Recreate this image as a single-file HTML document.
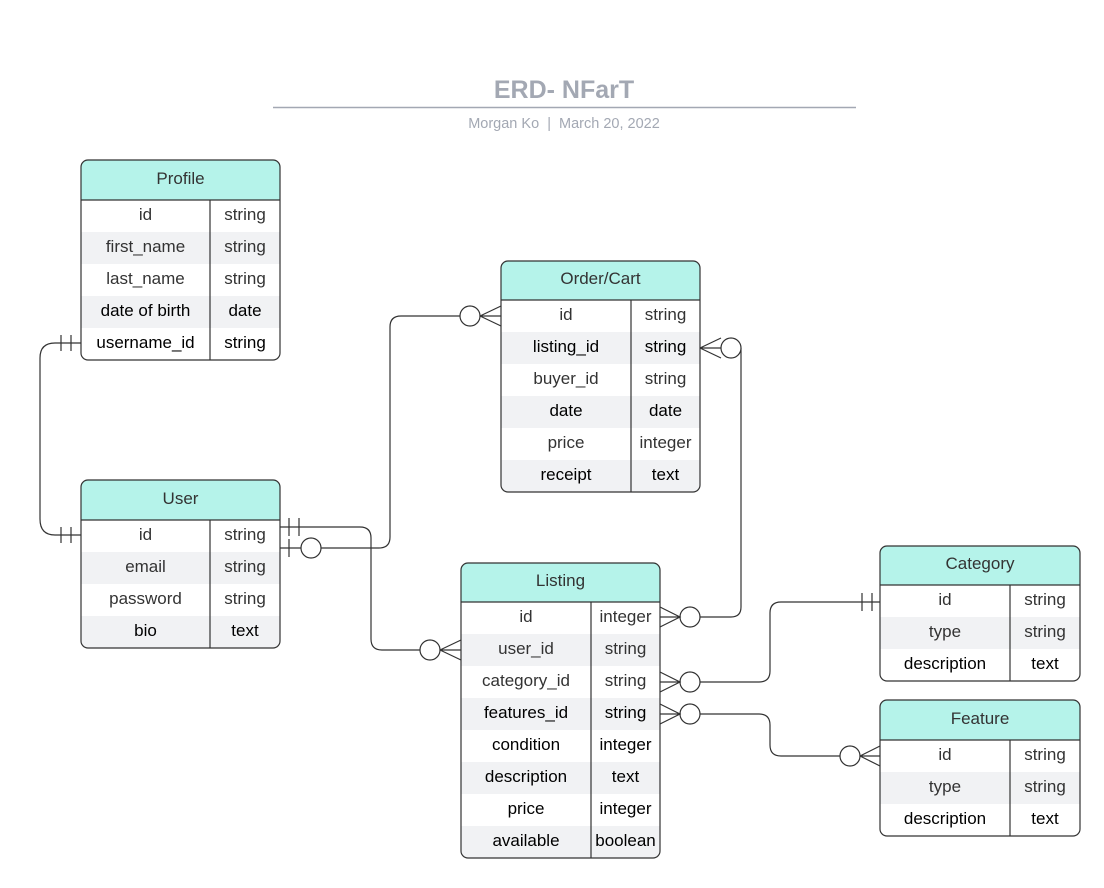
<!DOCTYPE html>
<html><head><meta charset="utf-8"><style>
html,body{margin:0;padding:0;background:#fff}
svg{display:block}
text{font-family:"Liberation Sans",sans-serif}
</style></head><body>
<svg width="1104" height="888" viewBox="0 0 1104 888" xmlns="http://www.w3.org/2000/svg">
<defs>
<clipPath id="cP"><rect x="81" y="160" width="199" height="200" rx="7"/></clipPath>
<clipPath id="cO"><rect x="501" y="261" width="199" height="231" rx="7"/></clipPath>
<clipPath id="cU"><rect x="81" y="480" width="199" height="168" rx="7"/></clipPath>
<clipPath id="cL"><rect x="461" y="563" width="199" height="295" rx="7"/></clipPath>
<clipPath id="cC"><rect x="880" y="546" width="200" height="135" rx="7"/></clipPath>
<clipPath id="cF"><rect x="880" y="700" width="200" height="136" rx="7"/></clipPath>
</defs>
<text x="564" y="98" text-anchor="middle" font-size="25" font-weight="bold" fill="#a3a8b3">ERD- NFarT</text>
<line x1="273" y1="107.5" x2="856" y2="107.5" stroke="#a3a8b3" stroke-width="1.5"/>
<text x="564" y="128" text-anchor="middle" font-size="14.5" fill="#a3a8b3">Morgan Ko&#160;&#160;|&#160;&#160;March 20, 2022</text>

<g clip-path="url(#cP)">
<rect x="81" y="160" width="199" height="40" fill="#b5f3ea"/>
<rect x="81" y="232" width="199" height="32" fill="#f1f2f4"/>
<rect x="81" y="296" width="199" height="32" fill="#f1f2f4"/>
</g>
<g clip-path="url(#cO)">
<rect x="501" y="261" width="199" height="39" fill="#b5f3ea"/>
<rect x="501" y="332" width="199" height="32" fill="#f1f2f4"/>
<rect x="501" y="396" width="199" height="32" fill="#f1f2f4"/>
<rect x="501" y="460" width="199" height="32" fill="#f1f2f4"/>
</g>
<g clip-path="url(#cU)">
<rect x="81" y="480" width="199" height="40" fill="#b5f3ea"/>
<rect x="81" y="552" width="199" height="32" fill="#f1f2f4"/>
<rect x="81" y="616" width="199" height="32" fill="#f1f2f4"/>
</g>
<g clip-path="url(#cL)">
<rect x="461" y="563" width="199" height="39" fill="#b5f3ea"/>
<rect x="461" y="634" width="199" height="32" fill="#f1f2f4"/>
<rect x="461" y="698" width="199" height="32" fill="#f1f2f4"/>
<rect x="461" y="762" width="199" height="32" fill="#f1f2f4"/>
<rect x="461" y="826" width="199" height="32" fill="#f1f2f4"/>
</g>
<g clip-path="url(#cC)">
<rect x="880" y="546" width="200" height="39" fill="#b5f3ea"/>
<rect x="880" y="617" width="200" height="32" fill="#f1f2f4"/>
</g>
<g clip-path="url(#cF)">
<rect x="880" y="700" width="200" height="40" fill="#b5f3ea"/>
<rect x="880" y="772" width="200" height="32" fill="#f1f2f4"/>
</g>

<g fill="none" stroke="#333" stroke-width="1.2">
<rect x="81" y="160" width="199" height="200" rx="7"/>
<line x1="81" y1="200" x2="280" y2="200"/>
<line x1="210" y1="200" x2="210" y2="360"/>
<rect x="501" y="261" width="199" height="231" rx="7"/>
<line x1="501" y1="300" x2="700" y2="300"/>
<line x1="631" y1="300" x2="631" y2="492"/>
<rect x="81" y="480" width="199" height="168" rx="7"/>
<line x1="81" y1="520" x2="280" y2="520"/>
<line x1="210" y1="520" x2="210" y2="648"/>
<rect x="461" y="563" width="199" height="295" rx="7"/>
<line x1="461" y1="602" x2="660" y2="602"/>
<line x1="591" y1="602" x2="591" y2="858"/>
<rect x="880" y="546" width="200" height="135" rx="7"/>
<line x1="880" y1="585" x2="1080" y2="585"/>
<line x1="1010" y1="585" x2="1010" y2="681"/>
<rect x="880" y="700" width="200" height="136" rx="7"/>
<line x1="880" y1="740" x2="1080" y2="740"/>
<line x1="1010" y1="740" x2="1010" y2="836"/>
</g>

<g font-size="17" fill="#333" text-anchor="middle" transform="translate(0,-2)">
<text x="180.5" y="186">Profile</text>
<text x="145.5" y="222">id</text><text x="245" y="222">string</text>
<text x="145.5" y="254">first_name</text><text x="245" y="254">string</text>
<text x="145.5" y="286">last_name</text><text x="245" y="286">string</text>
<text x="145.5" y="318" fill="#000">date of birth</text><text x="245" y="318" fill="#000">date</text>
<text x="145.5" y="350" fill="#000">username_id</text><text x="245" y="350" fill="#000">string</text>

<text x="600.5" y="286">Order/Cart</text>
<text x="566" y="322">id</text><text x="665.5" y="322">string</text>
<text x="566" y="354" fill="#000">listing_id</text><text x="665.5" y="354" fill="#000">string</text>
<text x="566" y="386">buyer_id</text><text x="665.5" y="386">string</text>
<text x="566" y="418" fill="#000">date</text><text x="665.5" y="418" fill="#000">date</text>
<text x="566" y="450">price</text><text x="665.5" y="450">integer</text>
<text x="566" y="482" fill="#000">receipt</text><text x="665.5" y="482" fill="#000">text</text>

<text x="180.5" y="506">User</text>
<text x="145.5" y="542">id</text><text x="245" y="542">string</text>
<text x="145.5" y="574">email</text><text x="245" y="574">string</text>
<text x="145.5" y="606">password</text><text x="245" y="606">string</text>
<text x="145.5" y="638" fill="#000">bio</text><text x="245" y="638" fill="#000">text</text>

<text x="560.5" y="588">Listing</text>
<text x="526" y="624">id</text><text x="625.5" y="624">integer</text>
<text x="526" y="656">user_id</text><text x="625.5" y="656">string</text>
<text x="526" y="688">category_id</text><text x="625.5" y="688">string</text>
<text x="526" y="720" fill="#000">features_id</text><text x="625.5" y="720" fill="#000">string</text>
<text x="526" y="752" fill="#000">condition</text><text x="625.5" y="752" fill="#000">integer</text>
<text x="526" y="784" fill="#000">description</text><text x="625.5" y="784" fill="#000">text</text>
<text x="526" y="816" fill="#000">price</text><text x="625.5" y="816" fill="#000">integer</text>
<text x="526" y="848" fill="#000">available</text><text x="625.5" y="848" fill="#000">boolean</text>

<text x="980" y="571">Category</text>
<text x="945" y="607">id</text><text x="1045" y="607">string</text>
<text x="945" y="639">type</text><text x="1045" y="639">string</text>
<text x="945" y="671" fill="#000">description</text><text x="1045" y="671" fill="#000">text</text>

<text x="980" y="726">Feature</text>
<text x="945" y="762">id</text><text x="1045" y="762">string</text>
<text x="945" y="794">type</text><text x="1045" y="794">string</text>
<text x="945" y="826" fill="#000">description</text><text x="1045" y="826" fill="#000">text</text>
</g>

<g fill="none" stroke="#333" stroke-width="1.2">
<path d="M81 343 H55 Q40 343 40 358 V519 Q40 535 55 535 H81"/>
<path d="M61 335 V351 M71 335 V351 M61 527 V543 M71 527 V543"/>
<path d="M280 527 H360 Q371 527 371 538 V639 Q371 650 382 650 H420"/>
<path d="M289 518 V536 M299 518 V536"/>
<circle cx="430" cy="650" r="10" fill="#fff"/>
<path d="M440 650 L461 640 M440 650 H461 M440 650 L461 660"/>
<path d="M280 548 H301 M321 548 H379 Q390 548 390 537 V327 Q390 316 401 316 H460"/>
<path d="M289 539 V557"/>
<circle cx="311" cy="548" r="10" fill="#fff"/>
<circle cx="470" cy="316" r="10" fill="#fff"/>
<path d="M480 316 L501 306 M480 316 H501 M480 316 L501 326"/>
<path d="M741 348 V607 Q741 617 731 617 H700"/>
<path d="M700 348 L721 338 M700 348 L721 358 M700 348 H721"/>
<circle cx="731" cy="348" r="10" fill="#fff"/>
<circle cx="690" cy="617" r="10" fill="#fff"/>
<path d="M660 607 L680 617 L660 627 M660 617 H680"/>
<path d="M700 682 H759 Q770 682 770 671 V613 Q770 602 781 602 H880"/>
<path d="M862 593 V611 M872 593 V611"/>
<circle cx="690" cy="682" r="10" fill="#fff"/>
<path d="M660 672 L680 682 L660 692 M660 682 H680"/>
<path d="M700 714 H759 Q770 714 770 725 V745 Q770 756 781 756 H840"/>
<circle cx="690" cy="714" r="10" fill="#fff"/>
<path d="M660 704 L680 714 L660 724 M660 714 H680"/>
<circle cx="850" cy="756" r="10" fill="#fff"/>
<path d="M860 756 L880 746 M860 756 H880 M860 756 L880 766"/>
</g>
</svg>
</body></html>
